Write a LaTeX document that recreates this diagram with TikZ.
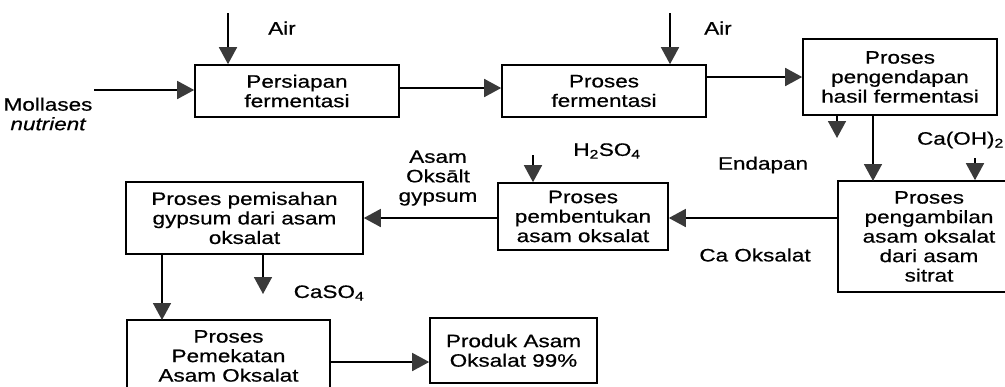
\documentclass[tikz,border=0pt]{standalone}
\usepackage{fontspec}
\setmainfont[FakeStretch=1.25,FakeBold=0.6]{Liberation Sans}
\usetikzlibrary{arrows.meta}
\definecolor{headgray}{HTML}{3A3A3A}
\begin{document}
\begin{tikzpicture}[x=1pt,y=-1pt,
  every node/.style={font=\fontsize{18}{19.5}\selectfont, inner sep=0pt},
  procbox/.style={draw, line width=1.6pt, align=center},
  lbl/.style={align=center},
  flow/.style={line width=1.6pt, -{Triangle[width=18pt,length=17pt,fill=headgray,color=headgray]}},
  plain/.style={line width=1.6pt}]
\useasboundingbox (0,0) rectangle (1005,386);
\clip (0,0) rectangle (1005,386);
% boxes
\node[procbox, minimum width=204pt, minimum height=52pt] (p1) at (297,91) {Persiapan\\fermentasi};
\node[procbox, minimum width=204pt, minimum height=52pt] (p2) at (604,91) {Proses\\fermentasi};
\node[procbox, minimum width=194pt, minimum height=76pt] (p3) at (900,77) {Proses\\pengendapan\\hasil fermentasi};
\node[procbox, minimum width=182pt, minimum height=111pt] (p4) at (929,236.5) {Proses\\pengambilan\\asam oksalat\\dari asam\\sitrat};
\node[procbox, minimum width=170pt, minimum height=67pt] (p5) at (583,216.5) {Proses\\pembentukan\\asam oksalat};
\node[procbox, minimum width=237pt, minimum height=72pt] (p6) at (244.5,218) {Proses pemisahan\\gypsum dari asam\\oksalat};
\node[procbox, minimum width=203pt, minimum height=72pt] (p7) at (228.5,356) {Proses\\Pemekatan\\Asam Oksalat};
\node[procbox, minimum width=167pt, minimum height=65pt] (p8) at (513.5,350.5) {Produk Asam\\Oksalat 99\%};
% labels
\node[lbl] (lair1) at (282,28) {Air};
\node[lbl] (lair2) at (718,28) {Air};
\node[lbl] (lmol) at (48,114) {Mollases\\\itshape nutrient};
\node[lbl] (lend) at (763,165) {Endapan};
\node[lbl, anchor=east] (lcaoh) at (1004,140) {Ca(OH)\textsubscript{2}};
\node[lbl] (lh2so4) at (607,151) {H\textsubscript{2}SO\textsubscript{4}};
\node[lbl] (lcaoks) at (755,255) {Ca Oksalat};
\node[lbl] (lasam) at (438,178) {Asam\\Oksālt\\gypsum};
\node[lbl] (lcaso4) at (329,293) {CaSO\textsubscript{4}};
% free ends
\coordinate (m0) at (94,90);
\coordinate (a1) at (228,13);
\coordinate (a2) at (670,13);
\coordinate (e1) at (837,138);
\coordinate (c1) at (975,158);
\coordinate (h1) at (533,155);
\coordinate (s1) at (263,294);
% connectors
\draw[flow] (m0) -- (m0 -| p1.west);
\draw[flow] (a1) -- (a1 |- p1.north);
\draw[flow] ([yshift=3pt]p1.east) -- ([yshift=3pt]p2.west);
\draw[flow] (a2) -- (a2 |- p2.north);
\draw[flow] (p2.east |- p3.west) -- (p3.west);
\draw[flow] (e1 |- p3.south) -- (e1);
\draw[flow] (873,115) -- (873,181);
\draw[flow] (c1) -- (c1 |- p4.north);
\draw[flow] ([yshift=-1.5pt]p4.west |- p5.east) -- ([yshift=-1.5pt]p5.east);
\draw[flow] (p5.west |- p6.east) -- (p6.east);
\draw[flow] (h1) -- (h1 |- p5.north);
\draw[flow] (162,254) -- (162,320);
\draw[flow] (s1 |- p6.south) -- (s1);
\draw[flow] ([yshift=-11.5pt]p8.west -| p7.east) -- ([yshift=-11.5pt]p8.west);
\end{tikzpicture}
\end{document}
